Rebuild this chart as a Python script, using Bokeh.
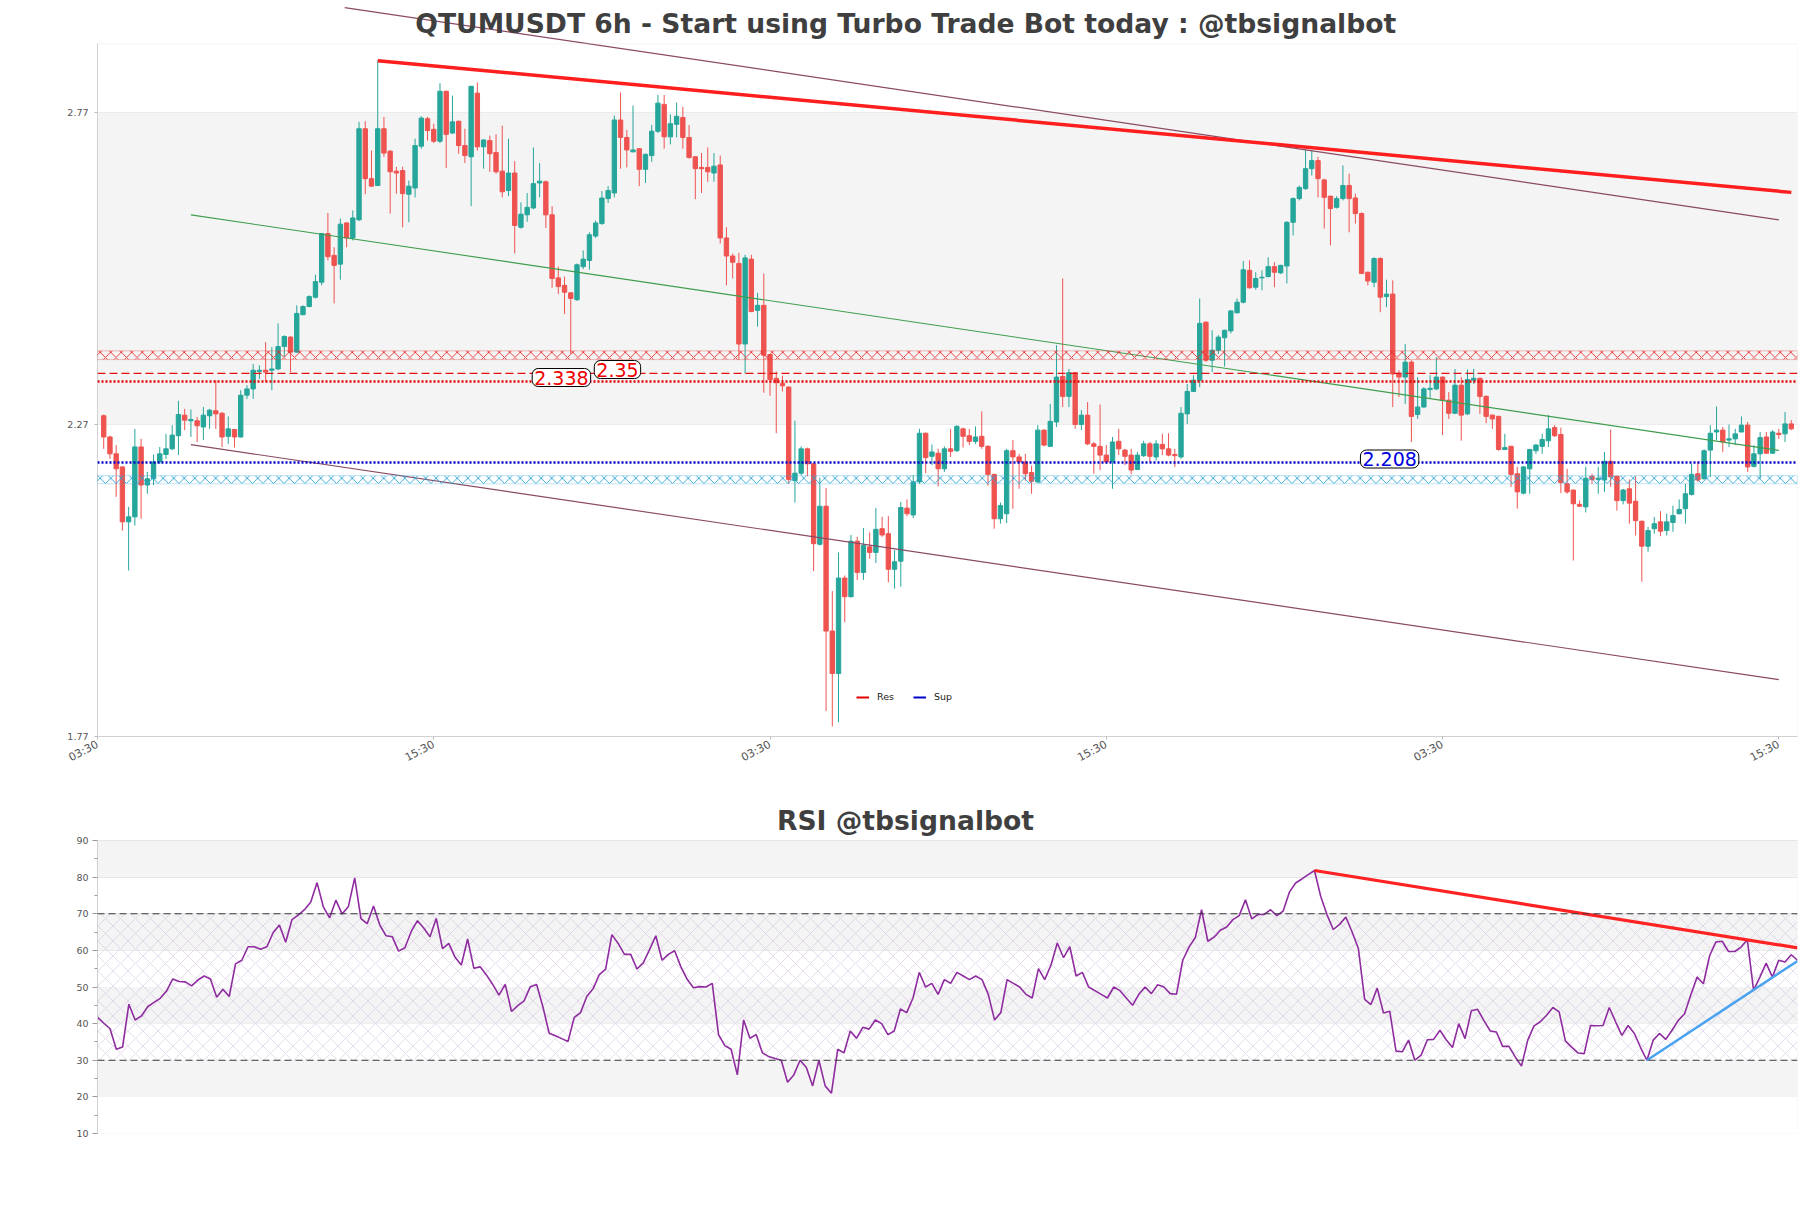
import math
from bokeh.plotting import figure
from bokeh.models import (Range1d, FixedTicker, BoxAnnotation, Span, Label,
                          Legend, LegendItem, ColumnDataSource)
from bokeh.layouts import column
from bokeh.embed import file_html
from bokeh.resources import INLINE

FONT = "DejaVu Sans"

# ---------------- data ----------------
opens = [2.284,2.250,2.223,2.202,2.114,2.122,2.234,2.173,2.183,2.210,
         2.222,2.231,2.252,2.285,2.276,2.276,2.266,2.284,2.292,2.288,
         2.251,2.262,2.250,2.317,2.327,2.355,2.357,2.357,2.359,2.395,
         2.410,2.386,2.446,2.459,2.474,2.498,2.576,2.541,2.527,2.593,
         2.569,2.598,2.744,2.664,2.653,2.744,2.708,2.676,2.677,2.639,
         2.649,2.716,2.760,2.743,2.724,2.804,2.737,2.756,2.717,2.699,
         2.801,2.715,2.725,2.706,2.676,2.645,2.673,2.586,2.606,2.617,
         2.657,2.659,2.606,2.505,2.493,2.481,2.470,2.523,2.533,2.572,
         2.592,2.632,2.641,2.758,2.730,2.707,2.712,2.679,2.701,2.740,
         2.783,2.731,2.751,2.762,2.730,2.699,2.682,2.682,2.673,2.686,
         2.569,2.540,2.528,2.399,2.535,2.453,2.461,2.382,2.344,2.336,
         2.330,2.180,2.192,2.231,2.207,2.078,2.139,1.939,1.871,2.024,
         1.994,2.083,2.033,2.074,2.065,2.103,2.095,2.038,2.051,2.136,
         2.125,2.178,2.256,2.219,2.224,2.199,2.231,2.228,2.263,2.252,
         2.243,2.251,2.235,2.190,2.119,2.127,2.228,2.218,2.210,2.193,
         2.178,2.261,2.235,2.274,2.347,2.315,2.353,2.270,2.285,2.239,
         2.235,2.221,2.210,2.243,2.229,2.221,2.198,2.220,2.239,2.218,
         2.238,2.231,2.222,2.218,2.287,2.323,2.341,2.434,2.373,2.389,
         2.409,2.420,2.449,2.466,2.517,2.490,2.505,2.507,2.523,2.513,
         2.524,2.594,2.632,2.648,2.680,2.693,2.662,2.636,2.618,2.632,
         2.653,2.633,2.608,2.514,2.498,2.536,2.475,2.479,2.352,2.346,
         2.370,2.286,2.298,2.326,2.327,2.346,2.309,2.288,2.333,2.287,
         2.341,2.344,2.315,2.285,2.283,2.230,2.235,2.191,2.160,2.199,
         2.228,2.235,2.244,2.265,2.254,2.175,2.165,2.142,2.138,2.187,
         2.182,2.181,2.211,2.187,2.148,2.167,2.147,2.115,2.075,2.103,
         2.114,2.100,2.113,2.127,2.135,2.158,2.191,2.183,2.229,2.258,
         2.261,2.245,2.247,2.258,2.269,2.203,2.223,2.250,2.224,2.256,
         2.255,2.271]
highs = [2.286,2.252,2.237,2.203,2.138,2.263,2.247,2.194,2.222,2.234,
         2.255,2.269,2.308,2.295,2.294,2.282,2.298,2.295,2.341,2.290,
         2.283,2.263,2.325,2.333,2.367,2.365,2.402,2.394,2.432,2.413,
         2.412,2.461,2.461,2.477,2.510,2.577,2.609,2.554,2.600,2.594,
         2.613,2.755,2.756,2.709,2.853,2.763,2.710,2.683,2.683,2.661,
         2.728,2.764,2.763,2.752,2.817,2.805,2.797,2.757,2.744,2.812,
         2.818,2.727,2.733,2.735,2.749,2.728,2.692,2.626,2.641,2.714,
         2.689,2.661,2.620,2.523,2.507,2.482,2.528,2.549,2.578,2.597,
         2.644,2.652,2.765,2.802,2.742,2.781,2.713,2.704,2.750,2.798,
         2.798,2.767,2.786,2.779,2.750,2.700,2.705,2.714,2.705,2.701,
         2.586,2.544,2.545,2.542,2.542,2.481,2.512,2.383,2.355,2.348,
         2.331,2.276,2.235,2.233,2.208,2.185,2.168,2.003,2.065,2.028,
         2.093,2.090,2.104,2.097,2.136,2.122,2.123,2.069,2.146,2.150,
         2.189,2.263,2.257,2.238,2.231,2.235,2.263,2.269,2.265,2.263,
         2.267,2.291,2.237,2.191,2.145,2.231,2.245,2.223,2.223,2.204,
         2.269,2.262,2.303,2.397,2.504,2.359,2.354,2.293,2.306,2.242,
         2.302,2.237,2.250,2.263,2.231,2.231,2.226,2.244,2.242,2.245,
         2.255,2.256,2.231,2.298,2.335,2.349,2.472,2.435,2.421,2.413,
         2.422,2.453,2.472,2.532,2.533,2.514,2.517,2.538,2.530,2.526,
         2.596,2.634,2.653,2.710,2.710,2.699,2.664,2.636,2.636,2.685,
         2.672,2.640,2.610,2.515,2.538,2.538,2.502,2.501,2.357,2.399,
         2.373,2.346,2.330,2.349,2.378,2.347,2.322,2.359,2.346,2.358,
         2.359,2.345,2.317,2.286,2.284,2.255,2.236,2.202,2.203,2.231,
         2.239,2.255,2.285,2.269,2.265,2.199,2.165,2.148,2.202,2.191,
         2.202,2.226,2.262,2.188,2.167,2.182,2.187,2.116,2.106,2.122,
         2.131,2.127,2.140,2.150,2.175,2.207,2.210,2.230,2.269,2.299,
         2.266,2.270,2.263,2.283,2.274,2.237,2.258,2.258,2.261,2.263,
         2.290,2.277]
lows = [2.231,2.215,2.154,2.100,2.036,2.108,2.119,2.159,2.173,2.207,
        2.215,2.229,2.221,2.261,2.250,2.242,2.245,2.263,2.263,2.234,
        2.239,2.233,2.249,2.311,2.311,2.343,2.338,2.325,2.357,2.378,
        2.354,2.385,2.445,2.458,2.472,2.493,2.533,2.464,2.502,2.554,
        2.565,2.596,2.639,2.651,2.652,2.699,2.608,2.640,2.586,2.594,
        2.634,2.712,2.725,2.721,2.721,2.681,2.736,2.704,2.689,2.620,
        2.709,2.680,2.675,2.672,2.634,2.636,2.544,2.584,2.595,2.615,
        2.634,2.585,2.489,2.479,2.447,2.383,2.468,2.519,2.518,2.569,
        2.590,2.625,2.634,2.680,2.682,2.706,2.652,2.657,2.691,2.737,
        2.712,2.719,2.730,2.712,2.696,2.631,2.641,2.659,2.659,2.560,
        2.493,2.504,2.373,2.352,2.450,2.427,2.321,2.316,2.256,2.323,
        2.175,2.145,2.189,2.187,2.035,2.076,1.811,1.786,1.793,1.953,
        1.993,2.021,2.021,2.055,2.048,2.090,2.017,2.007,2.010,2.123,
        2.120,2.175,2.192,2.205,2.171,2.194,2.218,2.226,2.233,2.237,
        2.239,2.231,2.172,2.103,2.111,2.112,2.135,2.167,2.180,2.159,
        2.176,2.235,2.234,2.266,2.298,2.298,2.263,2.261,2.237,2.191,
        2.197,2.207,2.167,2.221,2.205,2.190,2.197,2.218,2.210,2.212,
        2.221,2.219,2.202,2.215,2.271,2.322,2.330,2.370,2.354,2.383,
        2.363,2.416,2.448,2.464,2.488,2.486,2.485,2.506,2.490,2.511,
        2.496,2.573,2.629,2.646,2.669,2.634,2.584,2.557,2.616,2.629,
        2.578,2.592,2.511,2.493,2.490,2.450,2.458,2.298,2.314,2.303,
        2.242,2.279,2.297,2.311,2.325,2.253,2.279,2.287,2.244,2.285,
        2.335,2.287,2.272,2.263,2.228,2.229,2.170,2.135,2.158,2.159,
        2.223,2.223,2.234,2.250,2.160,2.159,2.052,2.138,2.129,2.175,
        2.159,2.162,2.170,2.132,2.142,2.111,2.092,2.018,2.066,2.095,
        2.091,2.092,2.098,2.126,2.111,2.156,2.178,2.182,2.186,2.245,
        2.226,2.234,2.237,2.258,2.194,2.201,2.183,2.223,2.223,2.247,
        2.242,2.261]
closes = [2.250,2.223,2.199,2.114,2.122,2.234,2.173,2.183,2.210,2.223,
          2.231,2.253,2.286,2.277,2.278,2.268,2.285,2.293,2.287,2.250,
          2.263,2.250,2.317,2.327,2.357,2.357,2.354,2.359,2.395,2.411,
          2.386,2.448,2.459,2.475,2.499,2.576,2.539,2.525,2.591,2.569,
          2.601,2.744,2.664,2.652,2.744,2.705,2.675,2.673,2.640,2.652,
          2.717,2.761,2.741,2.724,2.804,2.735,2.755,2.717,2.701,2.812,
          2.715,2.726,2.704,2.675,2.643,2.673,2.589,2.607,2.618,2.656,
          2.660,2.606,2.504,2.491,2.482,2.472,2.526,2.535,2.574,2.593,
          2.633,2.645,2.758,2.730,2.710,2.710,2.679,2.703,2.740,2.785,
          2.731,2.752,2.764,2.730,2.698,2.680,2.680,2.675,2.684,2.569,
          2.540,2.530,2.399,2.537,2.451,2.461,2.381,2.342,2.337,2.332,
          2.182,2.192,2.231,2.207,2.079,2.139,1.939,1.871,2.024,1.994,
          2.083,2.033,2.076,2.065,2.102,2.093,2.038,2.050,2.137,2.127,
          2.178,2.256,2.217,2.226,2.199,2.231,2.227,2.267,2.251,2.243,
          2.250,2.235,2.190,2.119,2.140,2.228,2.218,2.210,2.191,2.179,
          2.261,2.237,2.275,2.346,2.315,2.353,2.270,2.285,2.239,2.235,
          2.221,2.210,2.242,2.231,2.219,2.197,2.221,2.239,2.219,2.239,
          2.231,2.221,2.220,2.288,2.323,2.341,2.432,2.373,2.389,2.410,
          2.421,2.452,2.466,2.518,2.489,2.504,2.506,2.523,2.514,2.525,
          2.594,2.632,2.650,2.680,2.693,2.664,2.634,2.616,2.632,2.653,
          2.632,2.608,2.512,2.500,2.536,2.474,2.479,2.351,2.346,2.370,
          2.283,2.298,2.327,2.328,2.346,2.309,2.288,2.333,2.285,2.342,
          2.344,2.315,2.283,2.279,2.230,2.233,2.190,2.162,2.202,2.230,
          2.237,2.246,2.263,2.252,2.177,2.162,2.143,2.139,2.184,2.182,
          2.184,2.211,2.186,2.148,2.165,2.144,2.116,2.075,2.100,2.111,
          2.099,2.114,2.124,2.134,2.159,2.190,2.181,2.228,2.256,2.261,
          2.242,2.247,2.255,2.269,2.202,2.223,2.249,2.224,2.258,2.254,
          2.271,2.263]

rsi = [41.7,40.1,38.6,33.0,33.6,45.3,41.0,42.1,44.6,45.8,
       46.9,48.9,52.2,51.5,51.4,50.3,51.9,53.0,52.2,47.2,
       49.4,47.4,56.3,57.3,61.0,61.0,60.3,61.0,64.8,66.9,
       62.2,68.4,69.6,71.1,73.2,78.5,71.9,68.9,73.7,69.9,
       72.0,79.8,68.7,67.3,72.1,66.9,64.0,63.7,59.8,60.7,
       65.1,68.1,66.1,63.7,68.7,60.5,61.9,58.1,56.0,63.1,
       55.1,55.5,53.3,50.7,47.8,50.7,43.3,44.9,46.2,50.1,
       50.7,44.6,37.4,36.7,35.9,35.1,41.7,43.0,47.4,49.5,
       53.4,54.9,64.3,61.9,58.9,58.9,54.9,56.6,60.2,64.0,
       57.3,58.9,59.9,55.5,52.1,49.8,50.1,50.0,51.0,37.0,
       34.0,33.0,26.0,41.0,36.0,37.0,32.0,31.0,30.5,30.0,
       24.0,26.0,30.0,28.0,23.0,30.0,23.0,21.0,33.0,32.0,
       38.0,36.0,39.0,38.5,41.0,40.0,37.0,38.0,44.0,43.0,
       47.0,54.0,50.0,51.0,48.0,52.0,51.0,54.0,53.0,52.0,
       53.0,52.0,48.0,41.0,43.0,52.0,51.0,50.0,48.0,47.0,
       55.0,52.0,56.0,62.0,58.0,61.0,53.0,54.0,50.0,49.0,
       48.0,47.0,50.0,49.0,47.0,45.0,48.0,50.0,48.2,50.6,
       50.0,48.2,48.0,57.3,60.9,63.5,71.1,62.5,63.6,65.5,
       66.4,68.4,69.5,73.8,68.6,69.8,69.8,71.1,69.5,70.7,
       75.9,78.4,79.5,80.7,81.8,74.7,69.7,65.7,67.1,69.1,
       65.0,60.5,46.6,45.2,49.7,42.9,43.4,32.5,32.3,35.5,
       30.0,31.4,35.6,35.7,38.2,35.6,33.5,40.0,35.9,43.5,
       43.9,40.9,38.0,37.7,33.8,33.8,30.9,28.4,35.5,39.4,
       40.5,42.3,44.4,43.2,35.3,33.6,32.0,31.8,39.5,39.4,
       39.5,44.4,40.5,36.8,39.5,37.3,33.4,30.0,35.5,37.3,
       35.7,38.2,40.9,42.7,47.9,52.7,50.9,58.6,62.3,62.5,
       59.7,59.7,60.9,62.9,49.1,52.7,56.5,52.7,57.3,56.8,
       58.8,57.3]

main_title = "QTUMUSDT 6h - Start using Turbo Trade Bot today : @tbsignalbot"
rsi_title = "RSI @tbsignalbot"

x_tick_pos = [-1, 53, 107, 161, 215, 269]
x_tick_labels = ["03:30", "15:30", "03:30", "15:30", "03:30", "15:30"]
price_ticks = [1.77, 2.27, 2.77]
rsi_ticks = [10, 20, 30, 40, 50, 60, 70, 80, 90]
rsi_minor = [15, 25, 35, 45, 55, 65, 75, 85]

# trend lines (index, price)
res_trend_x = [44, 271]
res_trend_y = [2.853, 2.642]
chan_upper_x = [38.7, 269]
chan_upper_y = [2.938, 2.598]
chan_x = [14, 269]
chan_mid_y = [2.606, 2.2285]
chan_lower_y = [2.2377, 1.861]

# levels
res_zone = [2.374, 2.388]
sup_zone = [2.175, 2.188]
res_dashed = 2.352
res_dotted = 2.339
sup_dotted = 2.209
level_labels = ["2.338", "2.35", "2.208"]
level_label_x = [73.5, 82.5, 206.5]
level_label_y = [2.3453, 2.3581, 2.2147]
legend_labels = ["Res", "Sup"]

# RSI trend lines
rsi_res_x = [194, 271]
rsi_res_y = [81.8, 60.7]
rsi_sup_x = [247, 271]
rsi_sup_y = [30.0, 57.1]
rsi_levels = [70, 30]

# ---------------- layout constants (pixels) ----------------
W = 1803
LEFT, RIGHT = 97, 6
PX_PER_PRICE = 624.0          # vertical scale of the price panel
FRAME_TOP_PRICE = 2.880       # visible frame top
MAIN_FRAME_H = 736            # frame (incl. area above the visible frame)
MAIN_BOTTOM = 62
Y_MAX = price_ticks[0] + MAIN_FRAME_H / PX_PER_PRICE
TITLE_SIZE = "26.6px"

# ---------------- main chart ----------------
N = len(closes)
xs = list(range(N))
UP, DOWN = "#26a69a", "#ef5350"
colors = [UP if c >= o else DOWN for o, c in zip(opens, closes)]
src = ColumnDataSource(dict(
    x=xs, h=highs, l=lows,
    top=[max(o, c) for o, c in zip(opens, closes)],
    bot=[min(o, c) for o, c in zip(opens, closes)],
    color=colors))

p = figure(width=W, height=MAIN_FRAME_H + MAIN_BOTTOM, title=None,
           x_range=Range1d(-1, N), y_range=Range1d(price_ticks[0], Y_MAX),
           output_backend="svg", toolbar_location=None,
           min_border_left=LEFT, min_border_right=RIGHT,
           min_border_top=0, min_border_bottom=MAIN_BOTTOM)
p.outline_line_color = None
p.background_fill_color = "white"
p.border_fill_color = "white"

p.add_layout(BoxAnnotation(bottom=price_ticks[1], top=price_ticks[2], left=-1, right=N,
                           fill_color="#f4f4f4", fill_alpha=1, line_color=None,
                           level="underlay"))
p.xgrid.visible = False
p.ygrid.ticker = FixedTicker(ticks=price_ticks)
p.ygrid.grid_line_color = "#e2e2e2"

p.yaxis.ticker = FixedTicker(ticks=price_ticks)
p.yaxis.bounds = (price_ticks[0], FRAME_TOP_PRICE)
p.yaxis.axis_line_color = "#cfcfcf"
p.yaxis.major_tick_line_color = "#bbbbbb"
p.yaxis.major_tick_out = 3
p.yaxis.major_tick_in = 0
p.yaxis.minor_tick_line_color = None
p.yaxis.major_label_text_font = FONT
p.yaxis.major_label_text_font_size = "9.5px"
p.yaxis.major_label_text_color = "#555555"
p.yaxis.major_label_standoff = 6

p.xaxis.ticker = FixedTicker(ticks=x_tick_pos)
p.xaxis.major_label_overrides = {t: s for t, s in zip(x_tick_pos, x_tick_labels)}
p.xaxis.major_label_orientation = math.radians(28)
p.xaxis.axis_line_color = "#cfcfcf"
p.xaxis.major_tick_line_color = "#bbbbbb"
p.xaxis.major_tick_out = 3
p.xaxis.major_tick_in = 0
p.xaxis.minor_tick_line_color = None
p.xaxis.major_label_text_font = FONT
p.xaxis.major_label_text_font_size = "11px"
p.xaxis.major_label_text_color = "#555555"
p.xaxis.major_label_standoff = 4

# visible frame outline
p.add_layout(BoxAnnotation(bottom=price_ticks[0], top=FRAME_TOP_PRICE, left=-1, right=N,
                           fill_alpha=0, line_color="#d9d9d9", line_width=1))

# zones
p.add_layout(BoxAnnotation(bottom=res_zone[0], top=res_zone[1], left=-1, right=N,
                           fill_alpha=0, line_color="#e52b2b", line_width=1,
                           hatch_pattern="x", hatch_color="#e52b2b",
                           hatch_scale=10.5, hatch_weight=0.9))
p.add_layout(BoxAnnotation(bottom=sup_zone[0], top=sup_zone[1], left=-1, right=N,
                           fill_alpha=0, line_color="#2aa3d8", line_width=1,
                           hatch_pattern="x", hatch_color="#2aa3d8",
                           hatch_scale=10.5, hatch_weight=0.9))

# level lines
p.add_layout(Span(location=res_dashed, dimension="width", line_color="#e01010",
                  line_dash="8 4", line_width=1.3))
p.add_layout(Span(location=res_dotted, dimension="width", line_color="#e00000",
                  line_dash="2 2", line_width=2.5))
p.add_layout(Span(location=sup_dotted, dimension="width", line_color="#0000cc",
                  line_dash="2 2", line_width=2.5))

# candles
p.segment(x0="x", y0="h", x1="x", y1="l", line_color="color", line_width=1, source=src)
p.vbar(x="x", width=0.7, top="top", bottom="bot", fill_color="color",
       line_color="color", line_width=1, source=src)

# channel + trend lines
p.line(chan_upper_x, chan_upper_y, line_color="#8b4a62", line_width=1.2)
p.line(chan_x, chan_lower_y, line_color="#8b4a62", line_width=1.2)
p.line(chan_x, chan_mid_y, line_color="#3e9e4e", line_width=1.1)
p.line(res_trend_x, res_trend_y, line_color="#ff1e1e", line_width=3.5)

# level labels
lab_colors = ["#ee0000", "#ee0000", "#0000dd"]
for t, lx, ly, col in zip(level_labels, level_label_x, level_label_y, lab_colors):
    p.add_layout(Label(x=lx, y=ly, text=t, text_align="center", text_baseline="middle",
                       text_font=FONT, text_font_size="19px", text_color=col,
                       background_fill_color="white", background_fill_alpha=1,
                       border_line_color="black", border_line_width=1,
                       border_radius=6, padding=2))

# legend (single-vertex lines draw nothing in the plot, only the legend swatch)
r_res = p.line(x=[0], y=[res_dotted], line_color="#e00000", line_width=2)
r_sup = p.line(x=[0], y=[sup_dotted], line_color="#0000cc", line_width=2)
legend = Legend(items=[LegendItem(label=legend_labels[0], renderers=[r_res]),
                       LegendItem(label=legend_labels[1], renderers=[r_sup])],
                orientation="horizontal", location=(759, 34),
                background_fill_alpha=0, border_line_color=None,
                label_text_font=FONT, label_text_font_size="9.5px",
                label_text_color="#222222",
                glyph_width=13, glyph_height=10, spacing=16, padding=2,
                margin=0, label_standoff=8)
p.add_layout(legend)

# main title (inside the extended frame area, above the visible frame)
p.add_layout(Label(x=128.8, y=2.9126, text=main_title, text_align="center",
                   text_baseline="middle", text_font=FONT, text_font_size=TITLE_SIZE,
                   text_font_style="bold", text_color="#3f3f3f"))

# ---------------- RSI chart ----------------
RSI_PX = 293 / 80.0
RSI_TOP_PAD = 42
RSI_BOTTOM = 20
RSI_FRAME_H = 293 + RSI_TOP_PAD
RSI_YMAX = rsi_ticks[0] + RSI_FRAME_H / RSI_PX

p2 = figure(width=W, height=RSI_FRAME_H + RSI_BOTTOM, title=None,
            x_range=Range1d(0, N - 1), y_range=Range1d(rsi_ticks[0], RSI_YMAX),
            output_backend="svg", toolbar_location=None,
            min_border_left=LEFT, min_border_right=RIGHT,
            min_border_top=0, min_border_bottom=RSI_BOTTOM)
p2.outline_line_color = None
p2.background_fill_color = "white"
p2.border_fill_color = "white"

for lo, hi in [(80, 90), (60, 70), (40, 50), (20, 30)]:
    p2.add_layout(BoxAnnotation(bottom=lo, top=hi, left=0, right=N - 1,
                                fill_color="#f4f4f4", fill_alpha=1,
                                line_color=None, level="underlay"))
p2.add_layout(BoxAnnotation(bottom=30, top=70, left=0, right=N - 1,
                            fill_alpha=0, line_color=None,
                            hatch_pattern="x", hatch_color="#c4aed6", hatch_alpha=0.6,
                            hatch_scale=15, hatch_weight=0.7, level="underlay"))
p2.xgrid.visible = False
p2.ygrid.ticker = FixedTicker(ticks=rsi_ticks)
p2.ygrid.grid_line_color = "#e2e2e2"
p2.add_layout(BoxAnnotation(bottom=rsi_ticks[0], top=rsi_ticks[-1], left=0, right=N - 1,
                            fill_alpha=0, line_color="#dcdcdc", line_width=1))

p2.yaxis.ticker = FixedTicker(ticks=rsi_ticks, minor_ticks=rsi_minor)
p2.yaxis.bounds = (rsi_ticks[0], rsi_ticks[-1])
p2.yaxis.axis_line_color = "#cfcfcf"
p2.yaxis.major_tick_line_color = "#999999"
p2.yaxis.minor_tick_line_color = "#999999"
p2.yaxis.major_tick_out = 5
p2.yaxis.major_tick_in = 0
p2.yaxis.minor_tick_out = 3
p2.yaxis.minor_tick_in = 0
p2.yaxis.major_label_text_font = FONT
p2.yaxis.major_label_text_font_size = "9.5px"
p2.yaxis.major_label_text_color = "#555555"
p2.yaxis.major_label_standoff = 4
p2.xaxis.visible = False

for lv in rsi_levels:
    p2.add_layout(Span(location=lv, dimension="width", line_color="#3a3a3a",
                       line_dash="7 4", line_width=1.2))

p2.line(xs, rsi, line_color="#8e2ca0", line_width=1.6)
p2.line(rsi_res_x, rsi_res_y, line_color="#ff2222", line_width=3.2)
p2.line(rsi_sup_x, rsi_sup_y, line_color="#4aa3f0", line_width=2.5)

p2.add_layout(Label(x=128.8, y=rsi_ticks[-1] + 20 / RSI_PX, text=rsi_title,
                    text_align="center", text_baseline="middle", text_font=FONT,
                    text_font_size=TITLE_SIZE, text_font_style="bold",
                    text_color="#3f3f3f"))

layout = column(p, p2, spacing=0)
open("out.html", "w").write(file_html(layout, INLINE))
